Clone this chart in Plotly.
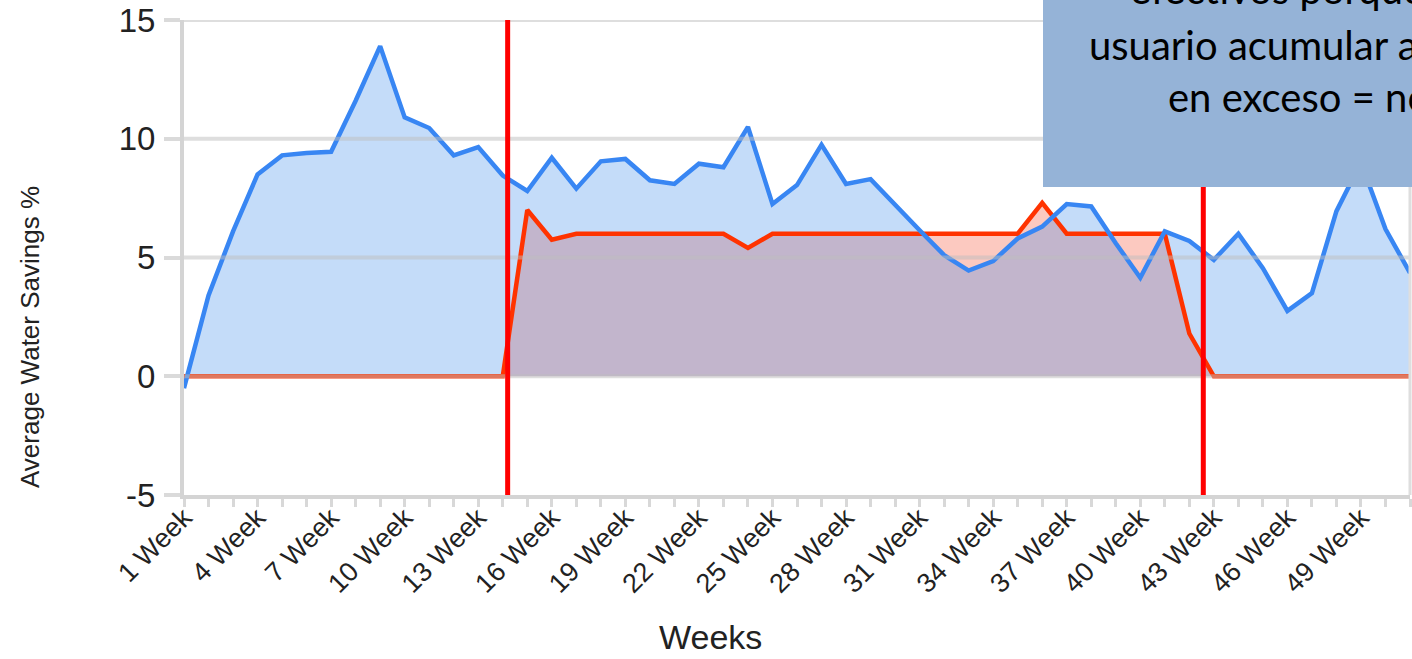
import plotly.graph_objects as go

# ---------------- data ----------------
weeks = [f"{i} Week" for i in range(1, 52)]
label_weeks = ["1 Week", "4 Week", "7 Week", "10 Week", "13 Week", "16 Week", "19 Week",
               "22 Week", "25 Week", "28 Week", "31 Week", "34 Week", "37 Week", "40 Week",
               "43 Week", "46 Week", "49 Week"]

savings_actual = [-0.5, 3.4, 6.1, 8.5, 9.3, 9.4, 9.45, 11.6, 13.9, 10.9,
                  10.45, 9.3, 9.65, 8.45, 7.8, 9.2, 7.9, 9.05, 9.15, 8.25,
                  8.1, 8.95, 8.8, 10.5, 7.25, 8.05, 9.75, 8.1, 8.3, 7.2,
                  6.15, 5.1, 4.45, 4.85, 5.8, 6.3, 7.25, 7.15, 5.6, 4.15,
                  6.1, 5.7, 4.9, 6.0, 4.55, 2.75, 3.5, 6.95, 9.0, 6.2, 4.35]

savings_credited = [0, 0, 0, 0, 0, 0, 0, 0, 0, 0,
                    0, 0, 0, 0, 7.0, 5.75, 6.0, 6.0, 6.0, 6.0,
                    6.0, 6.0, 6.0, 5.4, 6.0, 6.0, 6.0, 6.0, 6.0, 6.0,
                    6.0, 6.0, 6.0, 6.0, 6.0, 7.3, 6.0, 6.0, 6.0, 6.0,
                    6.0, 1.8, 0, 0, 0, 0, 0, 0, 0, 0, 0]

y_ticks = [-5, 0, 5, 10, 15]
y_tick_text = ["-5", "0", "5", "10", "15"]
period_marks = [14.2, 42.57]   # week positions of the vertical red markers (1-based)

box_lines = ["efectivos porque permiten al", "usuario acumular ahorros", "en exceso = no"]

# ---------------- layout helpers ----------------
W, H = 1412, 659
ML, MR, MT, MB = 184, 2, 20, 164
PW, PH = W - ML - MR, H - MT - MB


def px_x(px):
    return (px - ML) / PW


def px_y(py):
    return (H - MB - py) / PH


AX_FONT = "Liberation Sans, Arial, sans-serif"

fig = go.Figure()

fig.add_trace(go.Scatter(x=weeks, y=savings_credited, mode="none", fill="tozeroy",
                         fillcolor="rgba(245,60,30,0.28)", hoverinfo="skip"))
fig.add_trace(go.Scatter(x=weeks, y=savings_actual, mode="none", fill="tozeroy",
                         fillcolor="rgba(52,133,236,0.29)", hoverinfo="skip"))
fig.add_trace(go.Scatter(x=weeks, y=savings_credited, mode="lines",
                         line=dict(color="#FF3300", width=4.5)))
fig.add_trace(go.Scatter(x=weeks, y=savings_actual, mode="lines",
                         line=dict(color="#3886F3", width=4.5)))

shapes = []
for v in y_ticks[1:]:
    shapes.append(dict(type="line", xref="paper", yref="y", x0=0, x1=1, y0=v, y1=v,
                       line=dict(color="rgba(190,190,190,0.5)", width=4), layer="above"))
shapes.append(dict(type="line", xref="paper", yref="paper", x0=1, x1=1, y0=0, y1=1,
                   line=dict(color="#DEDEDE", width=3), layer="above"))
for wk in period_marks:
    shapes.append(dict(type="line", xref="x", yref="y", x0=wk - 1, x1=wk - 1,
                       y0=y_ticks[0], y1=y_ticks[-1],
                       line=dict(color="#FF0000", width=5), layer="above"))
shapes.append(dict(type="rect", xref="paper", yref="paper",
                   x0=px_x(1043), x1=px_x(W + 20), y0=px_y(187), y1=px_y(-20),
                   fillcolor="#95B3D7", line=dict(width=0), layer="above"))

box_font = dict(family="Lato, Open Sans, sans-serif", size=40, color="#000000")
annotations = [
    dict(text=box_lines[0], x=px_x(1128), y=px_y(-11), xref="paper", yref="paper",
         xanchor="left", yanchor="middle", showarrow=False, font=box_font),
    dict(text=box_lines[1], x=px_x(1087), y=px_y(45), xref="paper", yref="paper",
         xanchor="left", yanchor="middle", showarrow=False, font=box_font),
    dict(text=box_lines[2], x=px_x(1166), y=px_y(97), xref="paper", yref="paper",
         xanchor="left", yanchor="middle", showarrow=False, font=box_font),
    dict(text="Average Water Savings %", x=px_x(30), y=px_y(337), xref="paper", yref="paper",
         xanchor="center", yanchor="middle", textangle=-90, showarrow=False,
         font=dict(family=AX_FONT, size=26, color="#222222")),
    dict(text="Weeks", x=px_x(710), y=px_y(637), xref="paper", yref="paper",
         xanchor="center", yanchor="middle", showarrow=False,
         font=dict(family=AX_FONT, size=34, color="#222222")),
]

tick_text = [w if w in label_weeks else "" for w in weeks]

fig.update_layout(
    width=W, height=H,
    margin=dict(l=ML, r=MR, t=MT, b=MB, pad=0, autoexpand=False),
    paper_bgcolor="white", plot_bgcolor="white",
    showlegend=False,
    shapes=shapes,
    annotations=annotations,
    xaxis=dict(type="category", range=[0, len(weeks) - 1], tickmode="array",
               tickvals=weeks, ticktext=tick_text, tickangle=-45,
               ticks="outside", ticklen=8, tickwidth=3, tickcolor="#D8D8D8",
               ticklabelstandoff=-16, automargin=False,
               showgrid=False, zeroline=False,
               showline=True, linecolor="#D4D4D4", linewidth=4,
               tickfont=dict(family=AX_FONT, size=27, color="#222222")),
    yaxis=dict(range=[y_ticks[0], y_ticks[-1]], tickmode="array", tickvals=y_ticks,
               ticktext=y_tick_text, ticks="outside", ticklen=16, tickwidth=4,
               tickcolor="#DADADA", ticklabelstandoff=2, automargin=False,
               showgrid=False, zeroline=False,
               showline=True, linecolor="#D4D4D4", linewidth=4,
               tickfont=dict(family=AX_FONT, size=33, color="#222222")),
)

fig.write_html("out.html", config={"displayModeBar": False},
               post_script="document.body.style.margin='0px';document.body.style.overflow='hidden';")
